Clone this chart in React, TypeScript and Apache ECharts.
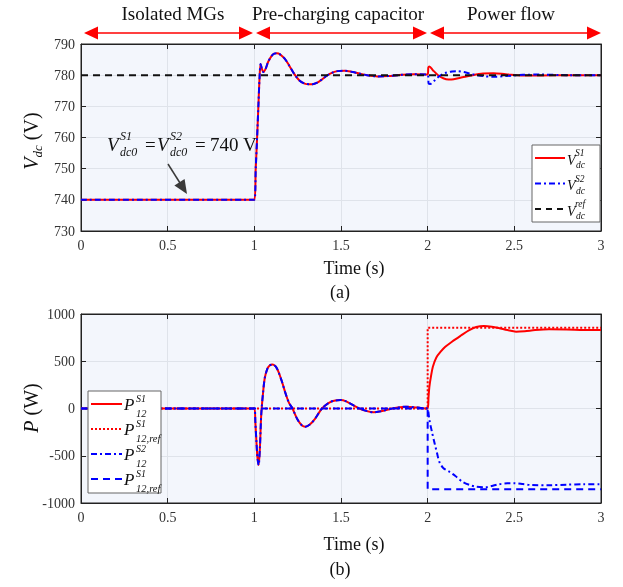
import React, { useEffect, useRef } from "react";
import * as echarts from "echarts";

// ---------- data ----------
const xTicks = [0, 0.5, 1, 1.5, 2, 2.5, 3];
const phaseLabels = ["Isolated MGs", "Pre-charging capacitor", "Power flow"];

// Vdc, shared part (0..2 s)
const vBaseT = [0, 1.0, 1.008, 1.016, 1.024, 1.03, 1.036, 1.044, 1.052, 1.065, 1.08, 1.1, 1.115, 1.13, 1.15, 1.175, 1.2, 1.23, 1.26, 1.29, 1.315, 1.336, 1.36, 1.39, 1.42, 1.45, 1.48, 1.52, 1.56, 1.6, 1.65, 1.71, 1.77, 1.85, 1.92, 2.0];
const vBase = [740, 740, 750, 760, 771, 779, 783.6, 782, 781, 782, 784.3, 786.2, 786.9, 787, 786.6, 785.3, 783.2, 780.4, 778.3, 777.3, 777.1, 777.1, 777.5, 778.6, 779.9, 780.8, 781.3, 781.4, 781.1, 780.6, 780, 779.6, 779.7, 780.1, 780.3, 780.2];
// after 2 s
const vS1T = [2.004, 2.01, 2.03, 2.06, 2.09, 2.12, 2.15, 2.2, 2.26, 2.32, 2.38, 2.45, 2.55, 2.65, 2.8, 3.0];
const vS1 = [782.5, 782.8, 781.6, 780, 779, 778.6, 778.7, 779.3, 780, 780.5, 780.6, 780.3, 779.9, 779.9, 780, 780];
const vS2T = [2.006, 2.015, 2.04, 2.07, 2.1, 2.14, 2.17, 2.21, 2.26, 2.32, 2.38, 2.45, 2.55, 2.65, 2.8, 3.0];
const vS2 = [777.3, 777.2, 778.3, 779.8, 780.7, 781.2, 781.3, 781, 780.3, 779.7, 779.5, 779.7, 780.1, 780.2, 780, 780];
const vRefT = [0, 3];
const vRef = [780, 780];

// P12, shared part (0..2 s)
const pBaseT = [0, 1.0, 1.006, 1.012, 1.018, 1.025, 1.032, 1.04, 1.05, 1.06, 1.075, 1.09, 1.105, 1.113, 1.125, 1.14, 1.16, 1.18, 1.2, 1.22, 1.25, 1.275, 1.295, 1.32, 1.35, 1.39, 1.43, 1.46, 1.497, 1.53, 1.57, 1.606, 1.65, 1.689, 1.73, 1.797, 1.84, 1.875, 1.92, 1.96, 2.0];
const pBase = [0, 0, -150, -350, -520, -598, -420, -60, 160, 320, 420, 458, 465, 460, 440, 385, 280, 160, 60, 0, -120, -180, -193, -170, -110, 0, 60, 82, 90, 75, 35, 0, -28, -40, -30, 0, 14, 19, 14, 6, 0];
const pS1T = [2.005, 2.01, 2.02, 2.03, 2.05, 2.075, 2.1, 2.14, 2.19, 2.24, 2.28, 2.325, 2.37, 2.41, 2.46, 2.51, 2.56, 2.62, 2.7, 2.8, 2.9, 3.0];
const pS1 = [120, 231, 350, 442, 540, 601, 650, 707, 770, 830, 862, 873, 866, 852, 830, 813, 818, 830, 838, 836, 831, 830];
const pS2T = [2.005, 2.01, 2.025, 2.04, 2.055, 2.067, 2.09, 2.125, 2.16, 2.2, 2.24, 2.28, 2.335, 2.37, 2.41, 2.46, 2.5, 2.55, 2.6, 2.7, 2.8, 2.9, 3.0];
const pS2 = [-50, -122, -250, -368, -480, -563, -630, -669, -715, -775, -808, -828, -834, -820, -802, -792, -792, -800, -810, -812, -806, -802, -802];
const pRefT = [0, 2, 2, 3];
const pRefS1 = [0, 0, 855, 855];
const pRefS2 = [0, 0, -855, -855];

const zip = (t: number[], v: number[]) => t.map((x, i) => [x, v[i]]);

const FONT = "Liberation Serif";
const RED = "#ff0000";
const BLUE = "#0000ff";

export default function App() {
  const ref = useRef<HTMLDivElement>(null);
  useEffect(() => {
    document.body.style.margin = "0";
    const chart = echarts.init(ref.current!, null, { renderer: "svg" });

    const grids = [
      { left: 81, top: 44, width: 520, height: 187 },
      { left: 81, top: 314, width: 520, height: 189 },
    ].map((g) => ({
      ...g,
      show: true,
      backgroundColor: "#f3f6fc",
      borderColor: "#222",
      borderWidth: 1,
    }));

    const tickStyle = { show: true, inside: true, length: 5, lineStyle: { color: "#222", width: 1 } };
    const labelStyle = { color: "#333", fontFamily: FONT, fontSize: 14, formatter: (v: number) => String(v) };
    const splitStyle = { show: true, lineStyle: { color: "#dfe3ea", width: 1 } };
    const axLine = { show: true, onZero: false, lineStyle: { color: "#222" } };

    const mkX = (gi: number) => [
      {
        gridIndex: gi, type: "value", min: xTicks[0], max: xTicks[xTicks.length - 1], interval: 0.5,
        axisLine: axLine, axisTick: tickStyle, axisLabel: { ...labelStyle, margin: 7 }, splitLine: splitStyle,
      },
      {
        gridIndex: gi, type: "value", position: "top", min: xTicks[0], max: xTicks[xTicks.length - 1], interval: 0.5,
        axisLine: axLine, axisTick: tickStyle, axisLabel: { show: false }, splitLine: { show: false },
      },
    ];
    const mkY = (gi: number, min: number, max: number, interval: number) => [
      {
        gridIndex: gi, type: "value", min, max, interval,
        axisLine: axLine, axisTick: tickStyle, axisLabel: { ...labelStyle, margin: 6 }, splitLine: splitStyle,
      },
      {
        gridIndex: gi, type: "value", position: "right", min, max, interval,
        axisLine: axLine, axisTick: tickStyle, axisLabel: { show: false }, splitLine: { show: false },
      },
    ];

    const line = (name: string, xi: number, yi: number, data: number[][], color: string, type: any, smooth: number | boolean = 0.3) => ({
      name, type: "line", xAxisIndex: xi, yAxisIndex: yi, data, showSymbol: false, symbol: "none",
      smooth, lineStyle: { color, width: 2, type }, z: 3,
    });

    const vS1Data = zip(vBaseT, vBase).concat(zip(vS1T, vS1));
    const vS2Data = zip(vBaseT, vBase).concat(zip(vS2T, vS2));
    const pS1Data = zip(pBaseT, pBase).concat(zip(pS1T, pS1));
    const pS2Data = zip(pBaseT, pBase).concat(zip(pS2T, pS2));

    // ----- graphics -----
    const txt = (text: string, x: number, y: number, size: number, extra: any = {}) => ({
      type: "text", x, y, silent: true, z: 10,
      style: { text, fontFamily: FONT, fontSize: size, fill: "#111", align: "left", verticalAlign: "middle", ...extra },
    });
    const it = { fontStyle: "italic" };

    const arrowSegs = [[84, 253], [256, 427], [430, 601]];
    const arrowY = 33;
    const arrows: any[] = [];
    arrowSegs.forEach(([a, b]) => {
      arrows.push({ type: "line", shape: { x1: a + 12, y1: arrowY, x2: b - 12, y2: arrowY }, style: { stroke: RED, lineWidth: 1.5 } });
      arrows.push({ type: "polygon", shape: { points: [[a, arrowY], [a + 14, arrowY - 6.5], [a + 14, arrowY + 6.5]] }, style: { fill: RED } });
      arrows.push({ type: "polygon", shape: { points: [[b, arrowY], [b - 14, arrowY - 6.5], [b - 14, arrowY + 6.5]] }, style: { fill: RED } });
    });
    const phaseX = [173, 338, 511];
    const phaseTexts = phaseLabels.map((s, i) => txt(s, phaseX[i], 13, 19, { align: "center" }));

    // top legend
    const topLeg: any[] = [
      { type: "rect", z: 9, shape: { x: 532, y: 145, width: 68, height: 77 }, style: { fill: "#ffffff", stroke: "#666", lineWidth: 1 } },
    ];
    const topLegItems = [
      { sup: "S1", color: RED, dash: "solid" },
      { sup: "S2", color: BLUE, dash: [6, 3, 2, 3] },
      { sup: "ref", color: "#111", dash: [6, 5] },
    ];
    topLegItems.forEach((e, i) => {
      const y = 158 + i * 25.5;
      topLeg.push({ type: "line", z: 10, shape: { x1: 535, y1: y, x2: 565, y2: y }, style: { stroke: e.color, lineWidth: 2, lineDash: e.dash === "solid" ? null : e.dash } });
      topLeg.push(txt("V", 567, y + 2, 14, it));
      topLeg.push(txt(e.sup, 575, y - 5, 9.5, it));
      topLeg.push(txt("dc", 576, y + 7, 9.5, it));
    });

    // bottom legend
    const botLeg: any[] = [
      { type: "rect", z: 9, shape: { x: 88, y: 391, width: 73, height: 102 }, style: { fill: "#ffffff", stroke: "#666", lineWidth: 1 } },
    ];
    const botLegItems = [
      { sup: "S1", sub: "12", color: RED, dash: "solid" },
      { sup: "S1", sub: "12,ref", color: RED, dash: [2, 2] },
      { sup: "S2", sub: "12", color: BLUE, dash: [6, 3, 2, 3] },
      { sup: "S1", sub: "12,ref", color: BLUE, dash: [7, 5] },
    ];
    botLegItems.forEach((e, i) => {
      const y = 404 + i * 25;
      botLeg.push({ type: "line", z: 10, shape: { x1: 91, y1: y, x2: 122, y2: y }, style: { stroke: e.color, lineWidth: 2, lineDash: e.dash === "solid" ? null : e.dash } });
      botLeg.push(txt("P", 124, y, 17, it));
      botLeg.push(txt(e.sup, 136, y - 6, 10, it));
      botLeg.push(txt(e.sub, 136, y + 9, 10.5, it));
    });

    // annotation
    const ann: any[] = [
      txt("V", 107, 144, 19, it),
      txt("S1", 120, 136, 12, it),
      txt("dc0", 120, 152, 12, it),
      txt("=", 145, 144, 19),
      txt("V", 157, 144, 19, it),
      txt("S2", 170, 136, 12, it),
      txt("dc0", 170, 152, 12, it),
      txt("=", 195, 144, 19),
      txt("740 V", 210, 144, 19),
      { type: "line", z: 10, shape: { x1: 168, y1: 164, x2: 180, y2: 183 }, style: { stroke: "#3a3a3a", lineWidth: 1.5 } },
      { type: "polygon", z: 10, shape: { points: [[187, 194], [174.4, 185.4], [184.6, 179]] }, style: { fill: "#3a3a3a" } },
    ];

    // axis titles & captions
    const titles: any[] = [
      txt("Time (s)", 354, 268, 18, { align: "center" }),
      txt("(a)", 340, 292, 18, { align: "center" }),
      txt("Time (s)", 354, 544, 18, { align: "center" }),
      txt("(b)", 340, 569, 18, { align: "center" }),
      {
        type: "text", x: 31, y: 141, rotation: Math.PI / 2, silent: true,
        style: {
          text: "{v|V}{s|dc}{n| (V)}", align: "center", verticalAlign: "middle", fill: "#111",
          rich: {
            v: { fontFamily: FONT, fontSize: 20, fontStyle: "italic", lineHeight: 26, verticalAlign: "middle", fill: "#111" },
            s: { fontFamily: FONT, fontSize: 13, fontStyle: "italic", lineHeight: 26, verticalAlign: "bottom", fill: "#111" },
            n: { fontFamily: FONT, fontSize: 20, lineHeight: 26, verticalAlign: "middle", fill: "#111" },
          },
        },
      },
      {
        type: "text", x: 31, y: 408, rotation: Math.PI / 2, silent: true,
        style: {
          text: "{v|P}{n| (W)}", align: "center", verticalAlign: "middle", fill: "#111",
          rich: {
            v: { fontFamily: FONT, fontSize: 20, fontStyle: "italic", fill: "#111" },
            n: { fontFamily: FONT, fontSize: 20, fill: "#111" },
          },
        },
      },
    ];

    chart.setOption({
      animation: false,
      grid: grids,
      xAxis: [...mkX(0), ...mkX(1)],
      yAxis: [...mkY(0, 730, 790, 10), ...mkY(1, -1000, 1000, 500)],
      series: [
        line("VS1", 0, 0, vS1Data, RED, "solid"),
        line("VS2", 0, 0, vS2Data, BLUE, [6, 3, 2, 3]),
        line("Vref", 0, 0, zip(vRefT, vRef), "#111", [7, 5], false),
        line("PS1", 2, 2, pS1Data, RED, "solid"),
        line("PS1ref", 2, 2, zip(pRefT, pRefS1), RED, [2, 2], false),
        line("PS2", 2, 2, pS2Data, BLUE, [6, 3, 2, 3]),
        line("PS2ref", 2, 2, zip(pRefT, pRefS2), BLUE, [7, 5], false),
      ],
      graphic: [...arrows, ...phaseTexts, ...topLeg, ...botLeg, ...ann, ...titles],
    });
    return () => chart.dispose();
  }, []);
  return <div ref={ref} style={{ position: "fixed", left: 0, top: 0, width: 623, height: 587 }} />;
}
